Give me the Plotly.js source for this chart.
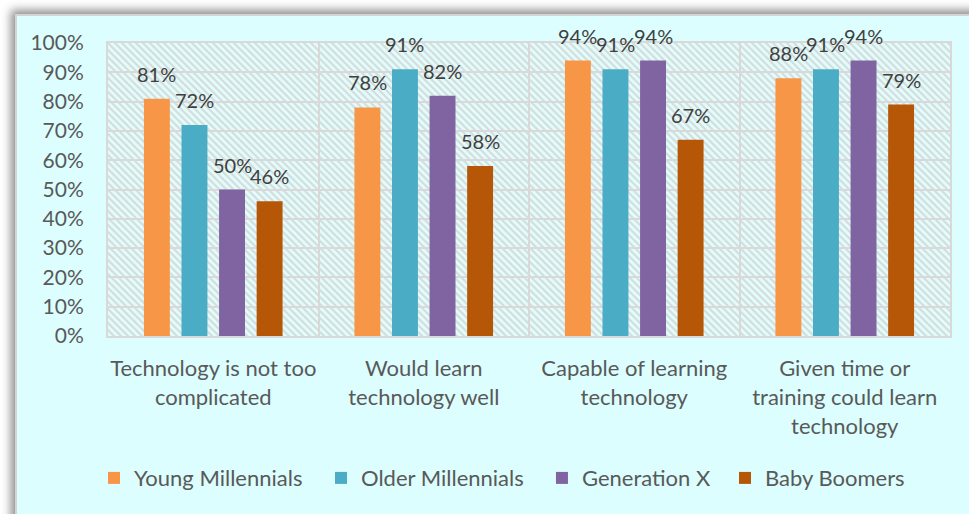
<!DOCTYPE html>
<html>
<head>
<meta charset="utf-8">
<script src="https://cdn.plot.ly/plotly-3.0.1.min.js"></script>
<style>
  html, body { margin:0; padding:0; background:#ffffff; overflow:hidden; width:969px; height:514px; }
  #frame { position:absolute; left:15px; top:14px; width:980px; height:530px;
           border-left:2px solid #d4d4d4; border-top:2px solid #d4d4d4;
           box-shadow:-4px -4px 9px rgba(0,0,0,0.45); background:#dcfefe; }
  #chart { position:absolute; left:0px; top:0px; width:952px; height:498px; }
</style>
</head>
<body>
<div id="frame"><div id="chart"></div></div>
<script>
const categories = [
  "Technology is not too<br>complicated",
  "Would learn<br>technology well",
  "Capable of learning<br>technology",
  "Given time or<br>training could learn<br>technology"
];
const seriesNames = ["Young Millennials", "Older Millennials", "Generation X", "Baby Boomers"];
const youngMillennials = [81, 78, 94, 88];
const olderMillennials = [72, 91, 91, 91];
const generationX      = [50, 82, 94, 94];
const babyBoomers      = [46, 58, 67, 79];
const yTickValues = [0,10,20,30,40,50,60,70,80,90,100];
const yTickLabels = yTickValues.map(v => v + "%");

const seriesValues = [youngMillennials, olderMillennials, generationX, babyBoomers];
const colors = ["#f79646", "#4bacc6", "#8064a2", "#b65708"];
const legendIds = ["legend", "legend2", "legend3", "legend4"];
const legendX = [-0.0166, 0.253, 0.5154, 0.7328];

const W = 952, H = 498;
const margin = {l:91, r:19, t:27, b:178};
const plotW = W - margin.l - margin.r;
const plotH = H - margin.t - margin.b;
const bargap = 0.286, bargroupgap = 0.31;
const slotPx = plotW / categories.length * (1 - bargap) / seriesValues.length;

const FONT = "Lato, 'Open Sans', sans-serif";
const TXT = "#595959";

const traces = seriesValues.map((vals, i) => ({
  type: "bar",
  name: seriesNames[i],
  legend: legendIds[i],
  x: categories,
  y: vals,
  marker: {color: colors[i]},
  hoverinfo: "skip"
}));

const annotations = [];
seriesValues.forEach((vals, i) => {
  vals.forEach((v, j) => {
    annotations.push({
      x: categories[j], y: v, xref: "x", yref: "y",
      text: v + "%", showarrow: false,
      xshift: (i - (seriesValues.length - 1) / 2) * slotPx,
      yshift: 25, yanchor: "middle",
      font: {family: FONT, size: 20, color: "#404040"}
    });
  });
});

// hatched plot-area background
const p = 7;
const svg = `<svg xmlns='http://www.w3.org/2000/svg' width='${plotW}' height='${plotH}' viewBox='0 0 ${plotW} ${plotH}'>` +
  `<defs><pattern id='h' width='${p}' height='${p}' patternUnits='userSpaceOnUse'>` +
  `<rect width='${p}' height='${p}' fill='#e2fcfc'/>` +
  `<path d='M0,0 L${p},${p} M-2,${p-2} L2,${p+2} M${p-2},-2 L${p+2},2' stroke='#d5dddd' stroke-width='2.1'/>` +
  `</pattern></defs><rect width='${plotW}' height='${plotH}' fill='url(#h)'/></svg>`;
const imgSrc = "data:image/svg+xml;charset=utf-8," + encodeURIComponent(svg);

const layout = {
  width: W, height: H,
  margin: margin,
  paper_bgcolor: "#dcfefe",
  plot_bgcolor: "rgba(0,0,0,0)",
  barmode: "group",
  bargap: bargap,
  bargroupgap: bargroupgap,
  showlegend: true,
  xaxis: {
    type: "category",
    tickson: "boundaries",
    tickangle: 0,
    automargin: false,
    showgrid: true, gridcolor: "#d9d9d9", gridwidth: 2,
    showline: true, linecolor: "#d9d9d9", linewidth: 2, mirror: true,
    ticks: "", ticklabelstandoff: 12,
    tickfont: {family: FONT, size: 22, color: TXT},
    fixedrange: true
  },
  yaxis: {
    range: [0, 100],
    tickvals: yTickValues, ticktext: yTickLabels,
    showgrid: true, gridcolor: "#d9d9d9", gridwidth: 2,
    showline: true, linecolor: "#d9d9d9", linewidth: 2, mirror: true,
    zeroline: false,
    ticks: "", ticklabelstandoff: 18,
    tickfont: {family: FONT, size: 21, color: TXT},
    fixedrange: true
  },
  images: [{
    source: imgSrc, xref: "paper", yref: "paper",
    x: 0, y: 1, sizex: 1, sizey: 1, sizing: "stretch",
    xanchor: "left", yanchor: "top", layer: "below"
  }],
  annotations: annotations
};
legendIds.forEach((id, i) => {
  layout[id] = {
    orientation: "h", x: legendX[i], xanchor: "left", y: -0.485, yanchor: "middle",
    font: {family: FONT, size: 22, color: TXT},
    bgcolor: "rgba(0,0,0,0)"
  };
});

Plotly.newPlot("chart", traces, layout, {displayModeBar: false, staticPlot: true});
</script>
</body>
</html>
